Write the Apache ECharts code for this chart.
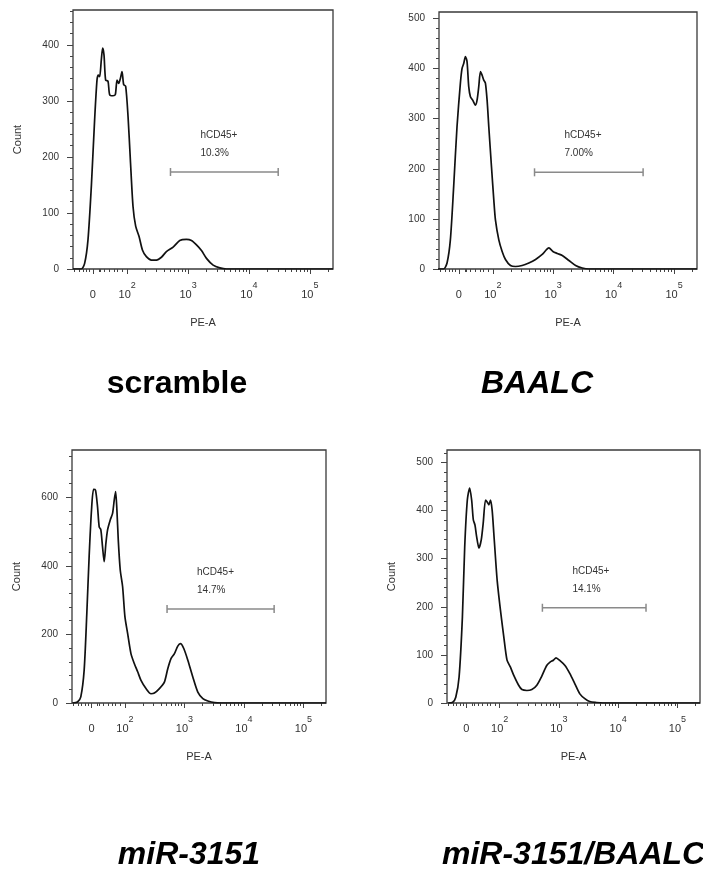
<!DOCTYPE html>
<html><head><meta charset="utf-8">
<script src="https://cdn.jsdelivr.net/npm/echarts@6/dist/echarts.min.js"></script>
<style>html,body{margin:0;padding:0;background:#fff}#c{width:703px;height:873px}</style>
</head><body><div id="c"></div>
<script>
// ---- data (x in display-decade units of the biexponential PE-A axis: 10^2 -> 2, 10^3 -> 3 ...) ----
const conditions = ['scramble', 'BAALC', 'miR-3151', 'miR-3151/BAALC'];

const scrambleHist = [[1.109,0],[1.246,0],[1.301,10],[1.356,52],[1.411,147],[1.465,266],[1.504,337],[1.526,346],[1.548,343],[1.575,373],[1.597,394],[1.619,382],[1.646,337],[1.685,335],[1.712,311],[1.767,309],[1.805,311],[1.833,337],[1.860,331],[1.888,340],[1.915,352],[1.942,329],[1.975,326],[2.014,272],[2.052,195],[2.096,111],[2.140,76],[2.195,58],[2.250,34],[2.315,22],[2.398,16],[2.480,16],[2.562,21],[2.644,31],[2.754,39],[2.863,51],[2.973,53],[3.055,51],[3.138,43],[3.220,33],[3.302,19],[3.411,7],[3.521,2],[3.631,0],[5.38,0]];

const baalcHist = [[1.093,0],[1.187,0],[1.243,12],[1.298,58],[1.353,165],[1.408,284],[1.464,371],[1.491,400],[1.519,410],[1.547,424],[1.574,414],[1.602,364],[1.630,344],[1.668,337],[1.713,327],[1.740,337],[1.768,364],[1.796,394],[1.823,387],[1.851,377],[1.878,371],[1.906,337],[1.934,284],[1.978,205],[2.017,138],[2.044,98],[2.100,58],[2.155,35],[2.210,19],[2.293,7],[2.376,5],[2.486,7],[2.597,12],[2.708,19],[2.818,29],[2.929,42],[2.995,35],[3.067,31],[3.150,27],[3.260,17],[3.371,7],[3.481,2],[3.592,0],[5.38,0]];

const mirHist = [[1.118,0],[1.202,3],[1.258,18],[1.314,95],[1.359,261],[1.398,427],[1.438,563],[1.472,623],[1.505,621],[1.539,573],[1.567,514],[1.595,505],[1.623,456],[1.651,412],[1.680,466],[1.708,505],[1.753,534],[1.792,553],[1.820,592],[1.843,617],[1.865,563],[1.888,475],[1.921,388],[1.961,339],[2.000,251],[2.045,203],[2.101,144],[2.157,115],[2.214,91],[2.270,66],[2.354,42],[2.438,27],[2.495,29],[2.579,42],[2.663,61],[2.720,100],[2.776,130],[2.832,144],[2.888,166],[2.933,173],[2.989,159],[3.057,125],[3.141,76],[3.225,32],[3.310,13],[3.394,6],[3.506,1],[3.619,0],[5.38,0]];

const mirBaalcHist = [[1.130,0],[1.202,1],[1.258,12],[1.314,54],[1.370,179],[1.409,325],[1.453,422],[1.492,447],[1.526,422],[1.554,381],[1.582,370],[1.610,346],[1.649,322],[1.688,339],[1.721,374],[1.760,422],[1.788,418],[1.816,412],[1.844,422],[1.872,401],[1.900,353],[1.956,256],[2.012,193],[2.068,138],[2.123,89],[2.179,75],[2.235,58],[2.319,37],[2.375,28],[2.458,26],[2.542,28],[2.626,37],[2.710,56],[2.793,78],[2.849,85],[2.905,89],[2.950,94],[3.017,88],[3.101,78],[3.184,61],[3.268,40],[3.352,19],[3.436,9],[3.519,3],[3.631,1],[3.743,0],[5.38,0]];

const histograms = [scrambleHist, baalcHist, mirHist, mirBaalcHist];

// gate [start, end, count level]
const gates = [[2.711, 4.480, 173], [2.691, 4.488, 193], [2.708, 4.508, 274], [2.720, 4.469, 198]];
const gateNames = ['hCD45+', 'hCD45+', 'hCD45+', 'hCD45+'];
const gatePercents = ['10.3%', '7.00%', '14.7%', '14.1%'];

const yMax = [462, 513, 738, 526];
const yStep = [100, 100, 200, 100];
const yMinorStep = [20, 20, 40, 20];
const yNames = ['Count', '', 'Count', 'Count'];

const xMin = 1.11, xMax = 5.38;
const xMajorTicks = [1.437, 2, 3, 4, 5];
const xMajorLabels = ['0', '10|2', '10|3', '10|4', '10|5'];
const xLinearMinorTicks = [1.137, 1.219, 1.273, 1.329, 1.383, 1.539, 1.564, 1.630, 1.712, 1.794, 1.844, 1.926];
const xName = 'PE-A';

// ---- layout ----
const grids = [
  {left: 73, top: 10, width: 260, height: 259},
  {left: 439, top: 12, width: 258, height: 257},
  {left: 72, top: 450, width: 254, height: 253},
  {left: 447, top: 450, width: 253, height: 253}
];
const titlePos = [
  {x: 177, y: 384, align: 'center', style: 'normal'},
  {x: 537, y: 384, align: 'center', style: 'italic'},
  {x: 189, y: 855, align: 'center', style: 'italic'},
  {x: 442, y: 855, align: 'left', style: 'italic'}
];
const FONT = '"Liberation Sans", Arial, Helvetica, sans-serif';
const TXT = '#333';

const xMinorTicks = xLinearMinorTicks.slice();
[2, 3, 4, 5].forEach(d => { for (let k = 2; k <= 9; k++) { const v = d + Math.log10(k); if (v < xMax) xMinorTicks.push(v); } });

const option = {
  animation: false,
  backgroundColor: '#fff',
  textStyle: {fontFamily: FONT},
  grid: grids.map(g => Object.assign({show: true, borderColor: '#3a3a3a', borderWidth: 1.3, backgroundColor: 'transparent', containLabel: false}, g)),
  xAxis: [], yAxis: [], series: [],
  graphic: conditions.map((t, i) => ({
    type: 'text', x: titlePos[i].x, y: titlePos[i].y, silent: true,
    style: {text: t, fill: '#000', font: titlePos[i].style + ' bold 32px ' + FONT, align: titlePos[i].align, verticalAlign: 'middle'}
  }))
};

grids.forEach((g, i) => {
  const yMajor = []; for (let v = 0; v <= yMax[i]; v += yStep[i]) yMajor.push(v);
  const yMinor = []; for (let v = 0; v <= yMax[i]; v += yMinorStep[i]) if (v % yStep[i] !== 0) yMinor.push(v);
  option.xAxis.push({
    type: 'value', gridIndex: i, position: 'bottom', min: xMin, max: xMax,
    axisLine: {show: false}, splitLine: {show: false},
    axisTick: {show: true, customValues: xMajorTicks, length: 5, lineStyle: {color: '#444', width: 1}},
    axisLabel: {
      customValues: xMajorTicks, margin: 12, color: TXT,
      formatter: v => {
        const idx = xMajorTicks.findIndex(t => Math.abs(t - v) < 1e-6);
        const lab = idx >= 0 ? xMajorLabels[idx] : '';
        const parts = lab.split('|');
        return parts.length > 1 ? '{b|' + parts[0] + '}{s|' + parts[1] + '}' : '{b|' + parts[0] + '}';
      },
      rich: {
        b: {fontSize: 11, lineHeight: 19, verticalAlign: 'bottom', color: TXT, fontFamily: FONT},
        s: {fontSize: 9, lineHeight: 19, verticalAlign: 'top', color: TXT, fontFamily: FONT}
      }
    },
    name: xName, nameLocation: 'middle', nameGap: 48,
    nameTextStyle: {fontSize: 11, color: TXT, fontFamily: FONT}
  });
  option.xAxis.push({
    type: 'value', gridIndex: i, position: 'bottom', min: xMin, max: xMax,
    axisLine: {show: false}, splitLine: {show: false}, axisLabel: {show: false},
    axisTick: {show: true, customValues: xMinorTicks, length: 3, lineStyle: {color: '#444', width: 1}}
  });
  option.yAxis.push({
    type: 'value', gridIndex: i, position: 'left', min: 0, max: yMax[i],
    axisLine: {show: false}, splitLine: {show: false},
    axisTick: {show: true, customValues: yMajor, length: 6, lineStyle: {color: '#444', width: 1}},
    axisLabel: {customValues: yMajor, fontSize: 10, color: TXT, margin: 14},
    name: yNames[i], nameLocation: 'middle', nameGap: 50, nameRotate: 90,
    nameTextStyle: {fontSize: 11, color: TXT, fontFamily: FONT}
  });
  option.yAxis.push({
    type: 'value', gridIndex: i, position: 'left', min: 0, max: yMax[i],
    axisLine: {show: false}, splitLine: {show: false}, axisLabel: {show: false},
    axisTick: {show: true, customValues: yMinor, length: 3, lineStyle: {color: '#444', width: 1}}
  });
  option.series.push({
    type: 'line', xAxisIndex: 2 * i, yAxisIndex: 2 * i, data: histograms[i],
    showSymbol: false, smooth: 0.25, silent: true,
    lineStyle: {color: '#111', width: 1.7}
  });
  option.series.push({
    type: 'custom', xAxisIndex: 2 * i, yAxisIndex: 2 * i, silent: true,
    data: [gates[i]],
    renderItem: (params, api) => {
      const a = api.coord([api.value(0), api.value(2)]);
      const b = api.coord([api.value(1), api.value(2)]);
      const st = {stroke: '#8a8a8a', lineWidth: 1.5};
      return {type: 'group', children: [
        {type: 'line', shape: {x1: a[0], y1: a[1], x2: b[0], y2: b[1]}, style: st},
        {type: 'line', shape: {x1: a[0], y1: a[1] - 4, x2: a[0], y2: a[1] + 4}, style: st},
        {type: 'line', shape: {x1: b[0], y1: b[1] - 4, x2: b[0], y2: b[1] + 4}, style: st},
        {type: 'text', x: a[0] + 30, y: a[1] - 37, style: {text: gateNames[i], fill: TXT, fontSize: 10, fontFamily: FONT, align: 'left', verticalAlign: 'middle'}},
        {type: 'text', x: a[0] + 30, y: a[1] - 19, style: {text: gatePercents[i], fill: TXT, fontSize: 10, fontFamily: FONT, align: 'left', verticalAlign: 'middle'}}
      ]};
    }
  });
});

const chart = echarts.init(document.getElementById('c'), null, {renderer: 'canvas'});
chart.setOption(option);
</script></body></html>
